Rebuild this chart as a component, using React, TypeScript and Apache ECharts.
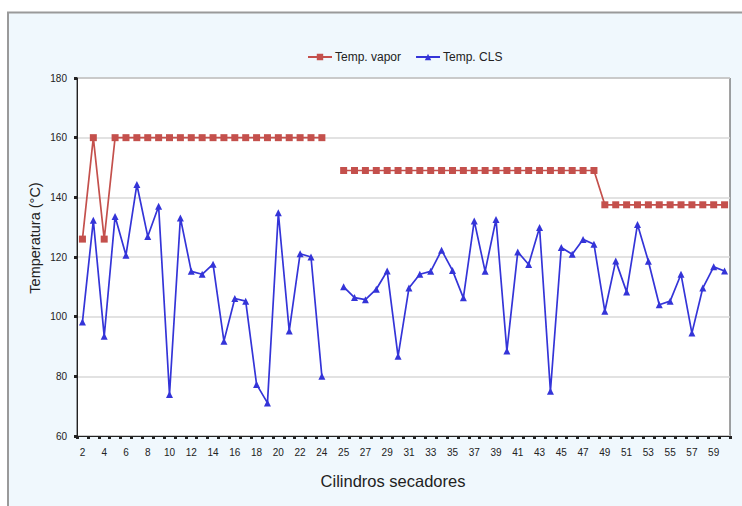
import React, { useEffect, useRef } from "react";
import * as echarts from "echarts";

const categories: string[] = [
  "2","3","4","5","6","7","8","9","10","11","12","13","14","15","16","17","18","19","20","21","22","23","24",
  "",
  "25","26","27","28","29","30","31","32","33","34","35","36","37","38","39","40","41","42",
  "43","44","45","46","47","48","49","50","51","52","53","54","55","56","57","58","59","60",
];

const tempVapor: (number | null)[] = [
  126,160,126,160,160,160,160,160,160,160,160,160,160,160,160,160,160,160,160,160,160,160,160,
  null,
  149,149,149,149,149,149,149,149,149,149,149,149,149,149,149,149,149,149,149,149,149,149,149,149,
  137.5,137.5,137.5,137.5,137.5,137.5,137.5,137.5,137.5,137.5,137.5,137.5,
];

const tempCLS: (number | null)[] = [
  98.2,132.3,93.4,133.6,120.6,144.3,126.9,137,73.9,133.1,115.2,114.2,117.6,91.8,106.1,105.2,77.3,71.1,134.8,95.2,121.1,120,80,
  null,
  110,106.4,105.7,109.2,115.3,86.7,109.6,114.2,115.2,122.3,115.5,106.3,132.1,115.2,132.6,88.5,121.7,117.5,
  129.9,75,123.2,120.9,125.9,124.3,101.8,118.7,108.3,130.9,118.6,104,105.2,114.2,94.5,109.6,116.7,115.3,
];

const yTicks = { min: 60, max: 180, interval: 20 };

export default function App() {
  const ref = useRef<HTMLDivElement>(null);
  useEffect(() => {
    if (!ref.current) return;
    const chart = echarts.init(ref.current, undefined, { renderer: "svg" });
    const font = "'Liberation Sans', Arial, Helvetica, sans-serif";
    chart.setOption({
      animation: false,
      backgroundColor: "#ffffff",
      textStyle: { fontFamily: font },
      graphic: [
        {
          type: "rect",
          z: -10,
          silent: true,
          shape: { x: 8, y: 12.5, width: 760, height: 520 },
          style: { fill: "#f0f8fd", stroke: "#9a9a9a", lineWidth: 2 },
        },
        {
          type: "text",
          x: 35,
          y: 238,
          rotation: Math.PI / 2,
          style: {
            text: "Temperatura (°C)",
            fontSize: 14.5,
            fontFamily: font,
            fill: "#222",
            textAlign: "center",
            textVerticalAlign: "middle",
          },
        },
        {
          type: "text",
          x: 393,
          y: 481,
          style: {
            text: "Cilindros secadores",
            fontSize: 16.5,
            fontFamily: font,
            fill: "#222",
            textAlign: "center",
            textVerticalAlign: "middle",
          },
        },
      ],
      legend: {
        left: 302,
        top: 46,
        itemWidth: 24,
        itemHeight: 8,
        itemGap: 14,
        textStyle: { fontSize: 12, color: "#222", fontFamily: font, padding: [0, 0, 0, -2] },
        data: ["Temp. vapor", "Temp. CLS"],
      },
      grid: {
        left: 77,
        right: 12,
        top: 78,
        bottom: 70,
        show: true,
        backgroundColor: "#ffffff",
        borderColor: "#444",
        borderWidth: 1,
      },
      xAxis: {
        type: "category",
        data: categories,
        boundaryGap: true,
        axisLine: { lineStyle: { color: "#222", width: 1 } },
        axisTick: { show: true, interval: 0, length: 3, lineStyle: { color: "#222", width: 3 } },
        axisLabel: { interval: 1, fontSize: 10, color: "#222", margin: 11, fontFamily: font },
        splitLine: { show: false },
      },
      yAxis: {
        type: "value",
        min: yTicks.min,
        max: yTicks.max,
        interval: yTicks.interval,
        axisLine: { show: true, lineStyle: { color: "#222", width: 1 } },
        axisTick: { show: true, length: 3, lineStyle: { color: "#222", width: 3 } },
        axisLabel: { fontSize: 10, color: "#222", margin: 10, fontFamily: font },
        splitLine: { show: true, lineStyle: { color: "#d8d8d8", width: 1.5 } },
      },
      series: [
        {
          name: "Temp. vapor",
          type: "line",
          data: tempVapor,
          symbol: "rect",
          symbolSize: 7,
          color: "#c4504c",
          lineStyle: { color: "#c4504c", width: 1.7 },
          itemStyle: { color: "#c4504c" },
          connectNulls: false,
        },
        {
          name: "Temp. CLS",
          type: "line",
          data: tempCLS,
          symbol: "triangle",
          symbolSize: 7,
          color: "#3434d8",
          lineStyle: { color: "#3434d8", width: 1.7 },
          itemStyle: { color: "#3434d8" },
          connectNulls: false,
        },
      ],
    });
    return () => chart.dispose();
  }, []);
  return (
    <div
      ref={ref}
      style={{ position: "fixed", left: 0, top: 0, width: 742, height: 506 }}
    />
  );
}
